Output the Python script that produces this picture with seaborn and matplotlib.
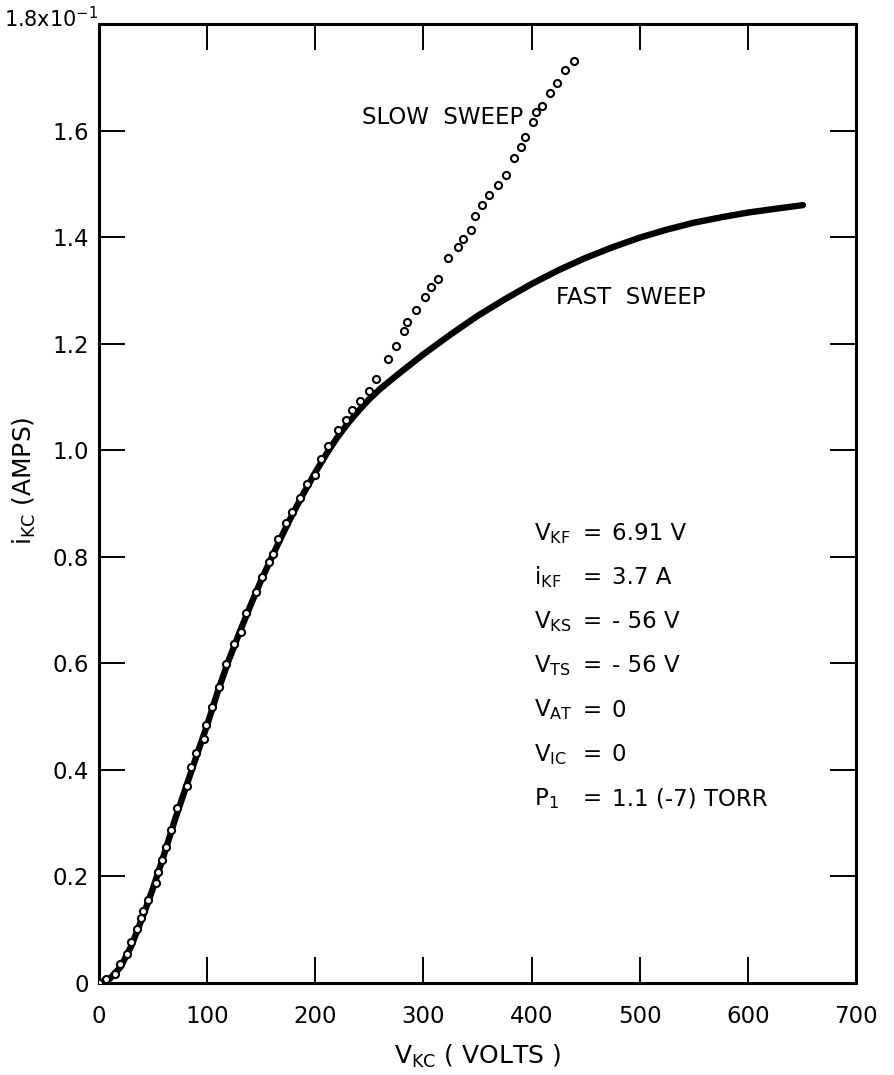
import matplotlib
matplotlib.use("Agg")
import matplotlib.pyplot as plt
import matplotlib.transforms as mtransforms
import seaborn as sns

sns.set_style("ticks")
plt.rcParams["font.family"] = ["DejaVu Sans"]
plt.rcParams["mathtext.default"] = "regular"
plt.rcParams["text.color"] = "black"
plt.rcParams["axes.labelcolor"] = "black"
plt.rcParams["xtick.color"] = "black"
plt.rcParams["ytick.color"] = "black"

# Fast sweep: cathode-collector current (x10^-1 A) vs. voltage (V)
fast_v = [0, 10, 20, 30, 40, 50, 60, 70, 80, 90, 100, 110, 120, 130, 140, 150,
          160, 170, 180, 190, 200, 210, 220, 230, 240, 250, 260, 275, 300, 325,
          350, 375, 400, 425, 450, 475, 500, 525, 550, 575, 600, 625, 651]
fast_i = [0, 0.008, 0.030, 0.070, 0.122, 0.178, 0.240, 0.305, 0.365, 0.425,
          0.484, 0.548, 0.606, 0.658, 0.708, 0.756, 0.800, 0.843, 0.884, 0.922,
          0.958, 0.992, 1.023, 1.050, 1.074, 1.096, 1.115, 1.140, 1.180, 1.217,
          1.252, 1.283, 1.312, 1.338, 1.361, 1.381, 1.399, 1.414, 1.427, 1.437,
          1.446, 1.453, 1.460]

# Slow sweep: individual measured points
slow_v = [0, 6.5, 14.7, 19.8, 26.2, 29.8, 35.2, 38.9, 40.8, 45.4, 53.0, 54.4,
          58.2, 62.1, 66.5, 72.4, 81.5, 85.0, 90.1, 97.1, 99.0, 104.5, 111.0,
          117.9, 125.3, 131.4, 135.8, 144.8, 151.1, 157.0, 160.9, 165.6, 172.9,
          178.9, 185.8, 192.2, 199.4, 205.2, 211.9, 220.6, 228.1, 233.9, 241.4,
          249.3, 256.2, 267.3, 274.2, 281.8, 285.1, 293.6, 301.4, 307.1, 313.3,
          323.1, 331.8, 336.9, 343.6, 348.1, 354.2, 360.5, 369.4, 376.7, 383.6,
          390.0, 393.5, 401.4, 404.3, 409.6, 417.2, 423.4, 430.7, 438.9]
slow_i = [0, 0.007, 0.017, 0.036, 0.054, 0.077, 0.102, 0.122, 0.136, 0.156,
          0.188, 0.208, 0.230, 0.256, 0.288, 0.329, 0.370, 0.405, 0.432, 0.458,
          0.484, 0.518, 0.556, 0.599, 0.637, 0.659, 0.695, 0.734, 0.762, 0.791,
          0.806, 0.833, 0.863, 0.884, 0.911, 0.936, 0.954, 0.984, 1.008, 1.037,
          1.056, 1.076, 1.092, 1.112, 1.133, 1.171, 1.196, 1.223, 1.240, 1.264,
          1.288, 1.307, 1.322, 1.361, 1.381, 1.396, 1.414, 1.440, 1.461, 1.479,
          1.498, 1.516, 1.548, 1.570, 1.587, 1.616, 1.634, 1.646, 1.671, 1.690,
          1.713, 1.730]

x_ticks = [0, 100, 200, 300, 400, 500, 600, 700]
y_ticks = [0, 0.2, 0.4, 0.6, 0.8, 1.0, 1.2, 1.4, 1.6]
y_tick_labels = ["0", "0.2", "0.4", "0.6", "0.8", "1.0", "1.2", "1.4", "1.6"]

cond_names = [r"V$_{KF}$", r"i$_{KF}$", r"V$_{KS}$", r"V$_{TS}$",
              r"V$_{AT}$", r"V$_{IC}$", r"P$_{1}$"]
cond_values = ["6.91 V", "3.7 A", "- 56 V", "- 56 V", "0", "0",
               "1.1 (-7) TORR"]

fig = plt.figure(figsize=(8.95, 10.75), dpi=100)
ax = fig.add_axes([0.1106, 0.0856, 0.8458, 0.8921])

sns.lineplot(x=fast_v, y=fast_i, ax=ax, color="black", linewidth=4.6,
             sort=False, estimator=None, solid_capstyle="round",
             solid_joinstyle="round", zorder=2)
sns.scatterplot(x=slow_v, y=slow_i, ax=ax, marker="o", s=26,
                facecolor="white", edgecolor="black", linewidth=1.5, zorder=3)

ax.set_xlim(0, 700)
ax.set_ylim(0, 1.8)
ax.set_xticks(x_ticks)
ax.set_xticklabels([str(v) for v in x_ticks])
ax.set_yticks(y_ticks)
ax.set_yticklabels(y_tick_labels)
ax.tick_params(direction="in", length=19, width=1.4, top=True, right=True,
               labelsize=16.5, color="black", labelcolor="black")
ax.tick_params(axis="x", pad=16)
ax.tick_params(axis="y", pad=7)
for sp in ax.spines.values():
    sp.set_linewidth(2.2)
    sp.set_color("black")

# top-of-scale label with the multiplier
trans = mtransforms.blended_transform_factory(ax.transAxes, ax.transData)
ax.text(-0.002, 1.81, r"1.8x10$^{-1}$", transform=trans, ha="right",
        va="center", fontsize=15, clip_on=False)

ax.set_xlabel(r"V$_{KC}$ ( VOLTS )", fontsize=18)
ax.xaxis.set_label_coords(0.5, -0.0626)
ax.set_ylabel(r"i$_{KC}$ (AMPS)", fontsize=18)
ax.yaxis.set_label_coords(-0.0806, 0.524)

ax.text(392, 1.625, "SLOW  SWEEP", ha="right", va="center", fontsize=16.5)
ax.text(422.5, 1.287, "FAST  SWEEP", ha="left", va="center", fontsize=16.5)

# operating conditions block
for k, (name, val) in enumerate(zip(cond_names, cond_values)):
    yb = 0.832 - 0.083 * k
    ax.text(402, yb, name, ha="left", va="baseline", fontsize=16.5)
    ax.text(456, yb, "=", ha="center", va="baseline", fontsize=16.5)
    ax.text(474, yb, val, ha="left", va="baseline", fontsize=16.5)

fig.savefig("out.png", dpi=100, facecolor="white")
